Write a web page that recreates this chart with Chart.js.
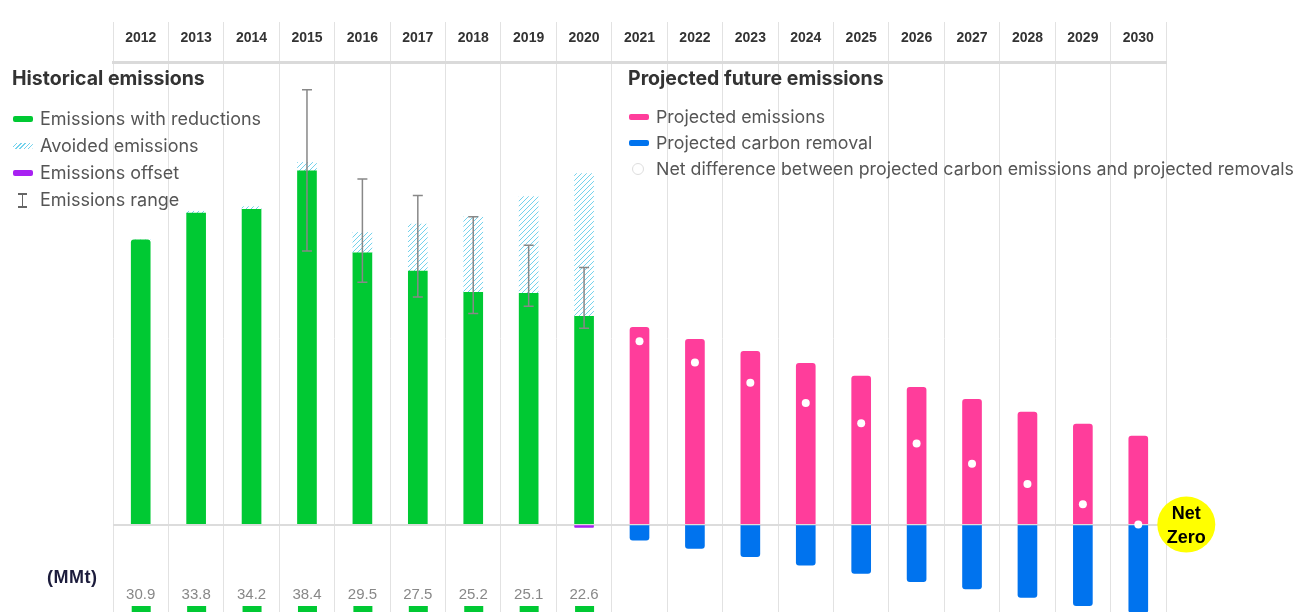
<!DOCTYPE html>
<html>
<head>
<meta charset="utf-8">
<script src="https://cdn.jsdelivr.net/npm/chart.js@4"></script>
<style>
html, body { margin: 0; padding: 0; background: #fff; }
#wrap { position: relative; width: 1311px; height: 612px; overflow: hidden; font-family: Inter, "Liberation Sans", Arial, sans-serif; }
#wrap canvas { position: absolute; left: 0; top: 0; }
.hd { position: absolute; font-weight: bold; color: #333; font-size: 19.5px; line-height: 20px; white-space: nowrap; }
.lg { position: absolute; color: #555; font-size: 18px; line-height: 20px; white-space: nowrap; }
.sw { position: absolute; width: 20px; height: 6px; border-radius: 2px; }
.unit { position: absolute; color: #1c1c3c; font-size: 18px; font-weight: bold; letter-spacing: 0.5px; line-height: 18px; font-family: "Liberation Sans", Arial, sans-serif; }
</style>
</head>
<body>
<div id="wrap">
  <canvas id="chart" width="1311" height="617"></canvas>

  <div class="hd" style="left:12px;top:68px;">Historical emissions</div>
  <div class="sw" style="left:13px;top:116px;background:#00c933;"></div>
  <div class="lg" style="left:40px;top:109px;">Emissions with reductions</div>
  <div class="sw" style="left:13px;top:143px;background:repeating-linear-gradient(-45deg,#74d2ec 0 1px,#fff 1px 3px);"></div>
  <div class="lg" style="left:40px;top:136px;">Avoided emissions</div>
  <div class="sw" style="left:13px;top:170px;background:#a821f2;"></div>
  <div class="lg" style="left:40px;top:163px;">Emissions offset</div>
  <div style="position:absolute;left:22px;top:194px;width:1px;height:13px;background:#666;"></div>
  <div style="position:absolute;left:18px;top:193px;width:9px;height:2px;background:#666;"></div>
  <div style="position:absolute;left:18px;top:206px;width:9px;height:2px;background:#666;"></div>
  <div class="lg" style="left:40px;top:190px;">Emissions range</div>

  <div class="hd" style="left:628px;top:68px;">Projected future emissions</div>
  <div class="sw" style="left:629px;top:114px;background:#ff3d9b;"></div>
  <div class="lg" style="left:656px;top:107px;font-size:17.8px;">Projected emissions</div>
  <div class="sw" style="left:629px;top:140px;background:#0073ee;"></div>
  <div class="lg" style="left:656px;top:133px;font-size:17.8px;">Projected carbon removal</div>
  <div style="position:absolute;left:632px;top:163px;width:10px;height:10px;border-radius:50%;border:1px solid #ddd;background:#fff;"></div>
  <div class="lg" style="left:656px;top:159px;font-size:17.8px;">Net difference between projected carbon emissions and projected removals</div>

  <div class="unit" style="left:47px;top:568px;">(MMt)</div>
</div>

<script>
const years = ['2012', '2013', '2014', '2015', '2016', '2017', '2018', '2019', '2020',
               '2021', '2022', '2023', '2024', '2025', '2026', '2027', '2028', '2029', '2030'];

// historical (MMt)
const withReductions = [30.9, 33.8, 34.2, 38.4, 29.5, 27.5, 25.2, 25.1, 22.6,
                        null, null, null, null, null, null, null, null, null, null];
const avoided = [0, 0.2, 0.3, 0.9, 2.2, 5.1, 8.2, 10.5, 15.5,
                 null, null, null, null, null, null, null, null, null, null];
const offset = [null, null, null, null, null, null, null, null, -0.3,
                null, null, null, null, null, null, null, null, null, null];
const rangeLow = [null, null, null, 29.7, 26.3, 24.7, 22.9, 23.7, 21.3,
                  null, null, null, null, null, null, null, null, null, null];
const rangeHigh = [null, null, null, 47.2, 37.5, 35.7, 33.4, 30.3, 27.9,
                   null, null, null, null, null, null, null, null, null, null];

// projections (MMt)
const projected = [null, null, null, null, null, null, null, null, null,
                   21.4, 20.1, 18.8, 17.5, 16.1, 14.9, 13.6, 12.2, 10.9, 9.6];
const removal = [null, null, null, null, null, null, null, null, null,
                 -1.7, -2.6, -3.5, -4.4, -5.3, -6.2, -7.0, -7.9, -8.8, -9.6];
const netDiff = [null, null, null, null, null, null, null, null, null,
                 19.9, 17.6, 15.4, 13.2, 11.0, 8.8, 6.6, 4.4, 2.2, 0];

// hatch for avoided emissions
const pc = document.createElement('canvas');
pc.width = 5; pc.height = 5;
const p = pc.getContext('2d');
p.strokeStyle = '#74d2ec';
p.lineWidth = 1;
p.beginPath();
p.moveTo(0, 5); p.lineTo(5, 0);
p.moveTo(-1, 1); p.lineTo(1, -1);
p.moveTo(4, 6); p.lineTo(6, 4);
p.stroke();
const hatch = p.createPattern(pc, 'repeat');

const extras = {
    id: 'extras',
    afterDatasetsDraw(chart) {
        const c = chart.ctx;
        const xs = chart.scales.x, ys = chart.scales.y;
        c.save();
        // emissions range
        c.strokeStyle = '#888';
        c.lineWidth = 1.5;
        rangeLow.forEach((lo, i) => {
            if (lo == null) return;
            const x = xs.getPixelForValue(i);
            const y1 = ys.getPixelForValue(rangeHigh[i]);
            const y2 = ys.getPixelForValue(lo);
            c.beginPath();
            c.moveTo(x, y1); c.lineTo(x, y2);
            c.moveTo(x - 5, y1); c.lineTo(x + 5, y1);
            c.moveTo(x - 5, y2); c.lineTo(x + 5, y2);
            c.stroke();
        });
        // values row under the historical bars
        c.font = '15px "Liberation Sans", Arial, sans-serif';
        c.textAlign = 'center';
        c.textBaseline = 'middle';
        withReductions.forEach((v, i) => {
            if (v == null) return;
            const x = xs.getPixelForValue(i);
            c.fillStyle = '#888';
            c.fillText(v.toFixed(1), x, 595);
            c.fillStyle = '#00c933';
            c.fillRect(x - 9, 606, 19, 8);
        });
        // net zero badge
        const last = years.length - 1;
        const bx = xs.getPixelForValue(last) + 48;
        const by = ys.getPixelForValue(0);
        c.fillStyle = '#ffff00';
        c.beginPath();
        c.ellipse(bx, by, 29, 28, 0, 0, Math.PI * 2);
        c.fill();
        c.fillStyle = '#000';
        c.font = 'bold 18px "Liberation Sans", Arial, sans-serif';
        c.fillText('Net', bx, by - 11);
        c.fillText('Zero', bx, by + 13);
        c.restore();
    }
};

new Chart(document.getElementById('chart'), {
    type: 'bar',
    data: {
        labels: years,
        datasets: [
            {
                type: 'line',
                label: 'Net difference',
                data: netDiff,
                stack: 'net',
                showLine: false,
                pointRadius: 4,
                pointBackgroundColor: '#fff',
                pointBorderWidth: 0
            },
            { label: 'Emissions with reductions', data: withReductions, backgroundColor: '#00c933', stack: 's', borderRadius: 3 },
            { label: 'Avoided emissions', data: avoided, backgroundColor: hatch, stack: 's' },
            { label: 'Emissions offset', data: offset, backgroundColor: '#a821f2', stack: 's', borderRadius: 2 },
            { label: 'Projected emissions', data: projected, backgroundColor: '#ff3d9b', stack: 's', borderRadius: 3 },
            { label: 'Projected carbon removal', data: removal, backgroundColor: '#0073ee', stack: 's', borderRadius: 3 }
        ]
    },
    options: {
        responsive: false,
        animation: false,
        barThickness: 19,
        layout: { padding: { left: 113, right: 145, top: 22, bottom: 0 } },
        plugins: { legend: { display: false }, tooltip: { enabled: false } },
        scales: {
            x: {
                position: 'top',
                stacked: true,
                offset: true,
                afterFit: s => { s.height = 40; },
                grid: { offset: true, color: '#e2e2e2', tickLength: 40, drawTicks: true },
                border: { display: true, color: '#dadada', width: 3 },
                ticks: {
                    padding: -25,
                    color: '#333',
                    font: { family: '"Liberation Sans", Arial, sans-serif', size: 14, weight: 'bold' }
                }
            },
            y: {
                stacked: true,
                min: -9.6,
                max: 50.2,
                afterFit: s => { s.width = 0; },
                ticks: { display: false, stepSize: 10 },
                border: { display: false },
                grid: {
                    drawTicks: false,
                    color: c => c.tick && c.tick.value === 0 ? '#dcdcdc' : 'rgba(0,0,0,0)',
                    lineWidth: 2
                }
            }
        }
    },
    plugins: [extras]
});
</script>
</body>
</html>
